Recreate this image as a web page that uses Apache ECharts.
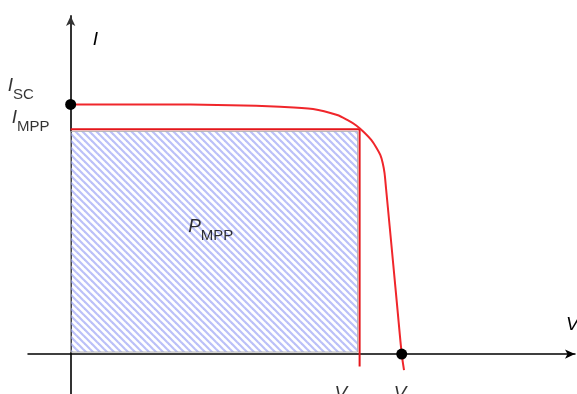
<!DOCTYPE html>
<html>
<head>
<meta charset="utf-8">
<script src="https://cdn.jsdelivr.net/npm/echarts@6/dist/echarts.min.js"></script>
<style>
  html, body { margin: 0; padding: 0; background: #fff; }
  #chart { width: 577px; height: 394px; }
</style>
</head>
<body>
<div id="chart"></div>
<script>
// Solar cell I–V characteristic (normalised units)
const voltage = [0, 0.150, 0.300, 0.3927, 0.4546, 0.5000, 0.5188, 0.5357, 0.5507, 0.5638, 0.5732, 0.5808,
                 0.5853, 0.5887, 0.5915, 0.5983, 0.6052, 0.6131, 0.621, 0.6253];
const current = [1.0, 1.0, 0.997, 0.9908, 0.9816, 0.9576, 0.9376, 0.9155, 0.8875, 0.8575, 0.8274, 0.7974,
                 0.7653, 0.7253, 0.6652, 0.5130, 0.3568, 0.1766, 0.0, -0.064];

// Characteristic points
const ISC = 1.0;     // short-circuit current
const VOC = 0.621;   // open-circuit voltage
const IMPP = 0.9;    // current at maximum power point
const VMPP = 0.542;  // voltage at maximum power point
const dropEnd = -0.05; // end of the V_MPP drop line below the axis

const FONT = 'Liberation Sans';

// Diagonal hatch tile for the power rectangle
function hatchTile() {
  const p = 7;
  const c = document.createElement('canvas');
  c.width = p; c.height = p;
  const g = c.getContext('2d');
  g.strokeStyle = 'rgba(150,158,245,0.65)';
  g.lineWidth = 2.2;
  const segs = [[-1, -1, p + 1, p + 1], [-1, p - 1, 1, p + 1], [p - 1, -1, p + 1, 1]];
  segs.forEach(s => { g.beginPath(); g.moveTo(s[0], s[1]); g.lineTo(s[2], s[3]); g.stroke(); });
  return c;
}

const rich = {
  i: { fontFamily: FONT, fontStyle: 'italic', fontSize: 19, lineHeight: 20, verticalAlign: 'top', color: '#000' },
  s: { fontFamily: FONT, fontSize: 15, lineHeight: 26, verticalAlign: 'bottom', color: '#000' }
};

function tag(main, sub, dx, dy) {
  return {
    show: true,
    position: [dx, dy],
    align: 'left',
    verticalAlign: 'middle',
    formatter: '{i|' + main + '}{s|' + sub + '}',
    rich: rich
  };
}

const chart = echarts.init(document.getElementById('chart'), null, { renderer: 'canvas' });

const axisCommon = {
  type: 'value',
  axisTick: { show: false },
  axisLabel: { show: false },
  splitLine: { show: false }
};

chart.setOption({
  animation: false,
  grid: { left: 28, right: 2, top: 16, bottom: 0, outerBoundsMode: 'none' },
  xAxis: Object.assign({}, axisCommon, {
    min: -0.08, max: 0.946,
    axisLine: { onZero: true, symbol: ['none', 'arrow'], symbolSize: [7, 10], lineStyle: { color: '#000', width: 1.5 } },
    name: 'V', nameLocation: 'end', nameGap: -9,
    nameTextStyle: { fontFamily: FONT, fontStyle: 'italic', fontSize: 19, color: '#000', align: 'left', verticalAlign: 'bottom', padding: [0, 0, 20, 0] }
  }),
  yAxis: Object.assign({}, axisCommon, {
    min: -0.16, max: 1.354,
    axisLine: { onZero: true, symbol: ['none', 'arrow'], symbolSize: [7, 10], lineStyle: { color: '#333', width: 2 } },
    name: 'I', nameLocation: 'end', nameGap: -33,
    nameTextStyle: { fontFamily: FONT, fontStyle: 'italic', fontSize: 19, color: '#000', align: 'left', verticalAlign: 'bottom', padding: [0, 0, 0, 22] }
  }),
  series: [
    {
      // hatched power rectangle P = V_MPP * I_MPP
      type: 'custom',
      silent: true,
      z: 1,
      data: [[0, 0, VMPP, IMPP]],
      renderItem: function (params, api) {
        const a = api.coord([api.value(0), api.value(3)]);
        const b = api.coord([api.value(2), api.value(1)]);
        return {
          type: 'rect',
          shape: { x: a[0], y: a[1] + 2, width: b[0] - a[0] - 2, height: b[1] - a[1] - 4 },
          style: { fill: { image: hatchTile(), repeat: 'repeat' }, stroke: '#b0b0b0', lineWidth: 1 }
        };
      }
    },
    {
      // MPP boundary lines
      type: 'line',
      z: 3,
      symbol: 'none',
      silent: true,
      lineStyle: { color: '#e5161b', width: 2 },
      data: [[0, IMPP], [VMPP, IMPP], [VMPP, dropEnd]]
    },
    {
      // I–V curve
      type: 'line',
      z: 4,
      symbol: 'none',
      smooth: 0.3,
      silent: true,
      lineStyle: { color: '#f0262b', width: 2 },
      data: voltage.map((v, k) => [v, current[k]])
    },
    {
      // I_SC and V_OC points
      type: 'scatter',
      z: 5,
      symbolSize: 11,
      itemStyle: { color: '#000', opacity: 1 },
      data: [[0, ISC], [VOC, 0]]
    },
    {
      // labels
      type: 'scatter',
      z: 6,
      symbolSize: 0,
      clip: false,
      silent: true,
      data: [
        { value: [0, ISC], label: tag('I', 'SC', -63, -15) },
        { value: [0, IMPP], label: tag('I', 'MPP', -59, -8) },
        { value: [VMPP / 2, IMPP / 2], label: tag('P', 'MPP', -27, -11) },
        { value: [VMPP, 0], label: tag('V', 'MPP', -25, 43) },
        { value: [VOC, 0], label: tag('V', 'OC', -8, 43) }
      ]
    }
  ]
});
</script>
</body>
</html>
